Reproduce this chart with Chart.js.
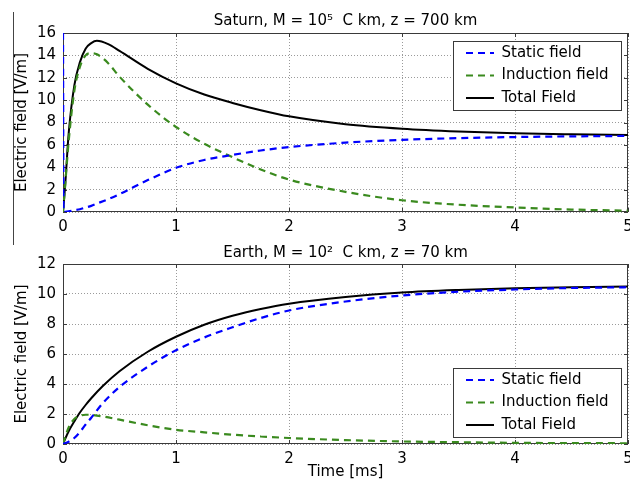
<!DOCTYPE html>
<html>
<head>
<meta charset="utf-8">
<script src="https://cdn.jsdelivr.net/npm/chart.js@4.4.1/dist/chart.umd.min.js"></script>
<style>
  body { margin: 0; background: #fff; }
  #wrap { position: relative; width: 630px; height: 481px; }
  .plot { position: absolute; left: 0; width: 630px; }
  #edge { position: absolute; left: 13px; top: 12px; width: 1px; height: 233px; background: #444; }
</style>
</head>
<body>
<div id="wrap">
  <div class="plot" style="top:0;height:240px"><canvas id="saturn"></canvas></div>
  <div class="plot" style="top:240px;height:241px"><canvas id="earth"></canvas></div>
  <div id="edge"></div>
</div>
<script>
Chart.defaults.font.family = '"DejaVu Sans", sans-serif';
Chart.defaults.font.size = 15;
Chart.defaults.color = '#000';

const seriesNames = ['Static field', 'Induction field', 'Total Field'];
const timeTicks = [0, 1, 2, 3, 4, 5];

// Saturn, M = 10^5 C km, z = 700 km
const satTime      = [0, 0.005, 0.02, 0.05, 0.1, 0.15, 0.2, 0.25, 0.3, 0.4, 0.5, 0.75, 1, 1.25, 1.5, 1.75, 2, 2.5, 3, 3.5, 4, 4.5, 5];
const satStatic    = [16, 0, 0.02, 0.05, 0.15, 0.25, 0.4, 0.55, 0.75, 1.15, 1.6, 2.85, 3.95, 4.65, 5.1, 5.5, 5.8, 6.2, 6.45, 6.6, 6.7, 6.76, 6.8];
const satInduction = [0, 0.6, 2.5, 6.3, 10.8, 13.0, 14.0, 14.2, 14.1, 13.3, 12.1, 9.6, 7.6, 6.1, 4.9, 3.8, 2.9, 1.8, 1.05, 0.65, 0.4, 0.22, 0.12];
const satTotal     = [0, 0.6, 2.5, 7.0, 11.3, 13.4, 14.6, 15.1, 15.3, 15.0, 14.4, 12.8, 11.5, 10.5, 9.75, 9.1, 8.55, 7.85, 7.45, 7.2, 7.03, 6.94, 6.88];
const satYTicks    = [0, 2, 4, 6, 8, 10, 12, 14, 16];

// Earth, M = 10^2 C km, z = 70 km
const earthTime      = [0, 0.05, 0.1, 0.15, 0.2, 0.25, 0.35, 0.5, 0.75, 1, 1.25, 1.5, 1.75, 2, 2.5, 3, 3.5, 4, 4.5, 5];
const earthStatic    = [0, 0.15, 0.4, 0.8, 1.3, 1.75, 2.7, 3.8, 5.15, 6.25, 7.1, 7.78, 8.4, 8.9, 9.5, 9.9, 10.15, 10.3, 10.4, 10.45];
const earthInduction = [0, 1.1, 1.67, 1.88, 1.95, 1.94, 1.84, 1.62, 1.25, 0.95, 0.78, 0.62, 0.5, 0.4, 0.26, 0.17, 0.12, 0.08, 0.06, 0.05];
const earthTotal     = [0, 0.85, 1.5, 2.1, 2.6, 3.05, 3.85, 4.85, 6.15, 7.15, 7.95, 8.55, 9.0, 9.35, 9.8, 10.1, 10.27, 10.38, 10.45, 10.5];
const earthYTicks    = [0, 2, 4, 6, 8, 10, 12];

const pts = (xs, ys) => xs.map((x, i) => ({ x, y: ys[i] }));

// legend samples: take dash and width from the dataset, not from its points
const legendLabels = chart =>
  Chart.defaults.plugins.legend.labels.generateLabels(chart).map((item, i) => {
    const ds = chart.data.datasets[i];
    item.lineDash = ds.borderDash || [];
    item.lineWidth = ds.borderWidth || 2;
    item.strokeStyle = ds.borderColor;
    return item;
  });

// matplotlib-ish frame, inward ticks and boxed legend
const mplFrame = {
  id: 'mplFrame',
  afterUpdate(chart, args, o) {
    const ca = chart.chartArea, lg = chart.legend;
    const left = ca.right - 7 - o.w;
    const top = o.atTop ? ca.top + 8 : ca.bottom - 7 - o.h;
    chart.$box = { left, top };
    lg.left = left + 5.5;
    lg.width = o.w;
    lg.right = lg.left + o.w;
    lg.top = top - 3;
    lg.bottom = lg.top + lg.height;
  },
  beforeDatasetsDraw(chart) {
    const { ctx, chartArea: ca, scales: { x, y } } = chart;
    ctx.save();
    ctx.strokeStyle = '#3a3a3a';
    ctx.lineWidth = 1;
    ctx.beginPath();
    x.ticks.forEach(t => {
      const px = Math.round(x.getPixelForValue(t.value)) + 0.5;
      ctx.moveTo(px, ca.bottom); ctx.lineTo(px, ca.bottom - 4);
      ctx.moveTo(px, ca.top); ctx.lineTo(px, ca.top + 4);
    });
    y.ticks.forEach(t => {
      const py = Math.round(y.getPixelForValue(t.value)) + 0.5;
      ctx.moveTo(ca.left, py); ctx.lineTo(ca.left + 4, py);
      ctx.moveTo(ca.right, py); ctx.lineTo(ca.right - 4, py);
    });
    ctx.stroke();
    ctx.strokeRect(Math.round(ca.left) + 0.5, Math.round(ca.top) + 0.5,
      Math.round(ca.width) - 1, Math.round(ca.height) - 1);
    ctx.restore();
  },
  afterDatasetsDraw(chart, args, o) {
    const { ctx } = chart, b = chart.$box;
    ctx.save();
    ctx.fillStyle = '#fff';
    ctx.fillRect(b.left, b.top, o.w, o.h);
    ctx.strokeStyle = '#3a3a3a';
    ctx.lineWidth = 1;
    ctx.strokeRect(Math.round(b.left) + 0.5, Math.round(b.top) + 0.5, o.w, o.h);
    ctx.restore();
    chart.legend.draw();
  }
};

function makeChart(id, title, time, stat, ind, tot, yTicks, yMax, opts) {
  return new Chart(document.getElementById(id), {
    type: 'line',
    data: {
      datasets: [
        { label: seriesNames[0], data: pts(time, stat), borderColor: '#0000ff', backgroundColor: '#0000ff', borderDash: [7, 5], borderWidth: 2.2 },
        { label: seriesNames[1], data: pts(time, ind), borderColor: '#3a8a1e', backgroundColor: '#3a8a1e', borderDash: [7, 5], borderWidth: 2.2 },
        { label: seriesNames[2], data: pts(time, tot), borderColor: '#000000', backgroundColor: '#000000', borderWidth: 2 }
      ]
    },
    options: {
      responsive: true,
      maintainAspectRatio: false,
      animation: false,
      events: [],
      datasets: { line: { pointRadius: 0, cubicInterpolationMode: 'monotone', fill: false } },
      layout: { padding: 0 },
      scales: {
        x: {
          type: 'linear', min: 0, max: 5,
          afterBuildTicks: s => { s.ticks = timeTicks.map(v => ({ value: v })); },
          grid: { color: '#9a9a9a', drawTicks: false },
          border: { display: false, dash: [1, 2] },
          ticks: { padding: 6, maxRotation: 0 },
          title: { display: opts.xTitle, text: 'Time [ms]', padding: { top: 0, bottom: 0 } },
          afterFit: s => { s.height = opts.xHeight; s.paddingLeft = 0; s.paddingRight = 2; }
        },
        y: {
          type: 'linear', min: 0, max: yMax,
          afterBuildTicks: s => { s.ticks = yTicks.map(v => ({ value: v })); },
          grid: { color: '#9a9a9a', drawTicks: false },
          border: { display: false, dash: [1, 2] },
          ticks: { padding: 7 },
          title: { display: true, text: 'Electric field [V/m]', padding: { top: 13, bottom: 0 } },
          afterFit: s => { s.width = 63; }
        }
      },
      plugins: {
        title: {
          display: true, text: title, fullSize: false, color: '#000',
          font: { size: 15, weight: 'normal' }, padding: opts.titlePad
        },
        legend: {
          position: 'chartArea', align: 'start',
          labels: {
            usePointStyle: true, pointStyle: 'line', pointStyleWidth: 28, padding: 7.5,
            font: { size: 15 }, generateLabels: legendLabels
          }
        },
        tooltip: { enabled: false },
        mplFrame: { w: 168, h: 69, atTop: opts.legendTop }
      }
    },
    plugins: [mplFrame]
  });
}

makeChart('saturn', 'Saturn, M = 10\u2075  C km, z = 700 km', satTime, satStatic, satInduction, satTotal,
  satYTicks, 16, { xTitle: false, xHeight: 28, titlePad: { top: 12, bottom: 3 }, legendTop: true });
makeChart('earth', 'Earth, M = 10\u00b2  C km, z = 70 km', earthTime, earthStatic, earthInduction, earthTotal,
  earthYTicks, 12, { xTitle: true, xHeight: 37, titlePad: { top: 4, bottom: 2 }, legendTop: false });
</script>
</body>
</html>
